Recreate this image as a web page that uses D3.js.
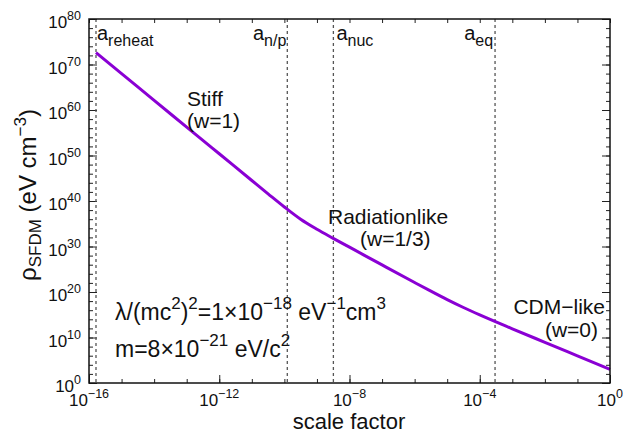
<!DOCTYPE html>
<html>
<head>
<meta charset="utf-8">
<script src="https://cdn.jsdelivr.net/npm/d3@7"></script>
<style>
  html, body { margin: 0; padding: 0; background: #fff; }
  svg { display: block; font-family: "Liberation Sans", Arial, Helvetica, sans-serif; }
</style>
</head>
<body>
<svg id="chart" width="623" height="434"></svg>
<script>
// ---- data ----
const scaleFactor = [1.64e-16, 1e-15, 1e-14, 1e-13, 1e-12, 1e-11, 3.16e-11, 1e-10, 3.16e-10, 1e-9, 3.16e-9,
                     1e-8, 1e-7, 1e-6, 3.16e-6, 1e-5, 3.16e-5, 1e-4, 1e-3, 1e-2, 1e-1, 1];
const rhoSFDM = [4.0e72, 1.0e68, 1.26e62, 1.78e56, 2.4e50, 3.2e44, 3.8e41, 4.9e38, 1.0e36, 6.2e33, 6.3e31,
                 7.1e29, 8.9e25, 1.2e22, 1.5e20, 2.1e18, 3.9e16, 9.3e14, 8.3e11, 8.7e8, 9.3e5, 1.0e3];
const markerNames = ["reheat", "n/p", "nuc", "eq"];
const markerValues = [1.64e-16, 1.23e-10, 3.2e-9, 2.95e-4];
const xTickExponents = [-16, -12, -8, -4, 0];
const yTickExponents = [0, 10, 20, 30, 40, 50, 60, 70, 80];

// ---- layout ----
const W = 623, H = 434;
const m = { left: 89, right: 13, top: 19, bottom: 51 };
const svg = d3.select("#chart");
const x = d3.scaleLog().domain([1e-16, 1]).range([m.left, W - m.right]);
const y = d3.scaleLog().domain([1, 1e80]).range([H - m.bottom, m.top]);

const xMajor = xTickExponents.map(e => Math.pow(10, e));
const xMinor = d3.range(-16, 1).map(e => Math.pow(10, e));
const yMajor = yTickExponents.map(e => Math.pow(10, e));
const yMinor = d3.range(0, 81, 2).map(e => Math.pow(10, e));

function styleAxis(g) {
  g.select(".domain").remove();
  g.selectAll(".tick line").attr("stroke", "#222").attr("stroke-width", 1);
  g.selectAll(".tick text").remove();
}
const bottomY = H - m.bottom, topY = m.top, leftX = m.left, rightX = W - m.right;

svg.append("g").attr("transform", `translate(0,${bottomY})`)
  .call(d3.axisBottom(x).tickValues(xMinor).tickSize(-4).tickSizeOuter(0)).call(styleAxis);
svg.append("g").attr("transform", `translate(0,${bottomY})`)
  .call(d3.axisBottom(x).tickValues(xMajor).tickSize(-8).tickSizeOuter(0)).call(styleAxis);
svg.append("g").attr("transform", `translate(0,${topY})`)
  .call(d3.axisTop(x).tickValues(xMinor).tickSize(-4).tickSizeOuter(0)).call(styleAxis);
svg.append("g").attr("transform", `translate(${leftX},0)`)
  .call(d3.axisLeft(y).tickValues(yMinor).tickSize(-4).tickSizeOuter(0)).call(styleAxis);
svg.append("g").attr("transform", `translate(${leftX},0)`)
  .call(d3.axisLeft(y).tickValues(yMajor).tickSize(-8).tickSizeOuter(0)).call(styleAxis);
svg.append("g").attr("transform", `translate(${rightX},0)`)
  .call(d3.axisRight(y).tickValues(yMinor).tickSize(-4).tickSizeOuter(0)).call(styleAxis);
svg.append("g").attr("transform", `translate(${rightX},0)`)
  .call(d3.axisRight(y).tickValues(yMajor).tickSize(-8).tickSizeOuter(0)).call(styleAxis);

// dashed marker lines
svg.append("g").selectAll("line").data(markerValues).join("line")
  .attr("x1", d => x(d)).attr("x2", d => x(d))
  .attr("y1", topY).attr("y2", bottomY)
  .attr("stroke", "#555").attr("stroke-width", 1.3).attr("stroke-dasharray", "3,3");

// curve
const line = d3.line().x((d, i) => x(scaleFactor[i])).y(d => y(d)).curve(d3.curveMonotoneX);
svg.append("path").datum(rhoSFDM).attr("d", line)
  .attr("fill", "none").attr("stroke", "#8a00d4").attr("stroke-width", 3).attr("stroke-linejoin", "round");

// frame
svg.append("rect").attr("x", leftX).attr("y", topY)
  .attr("width", rightX - leftX).attr("height", bottomY - topY)
  .attr("fill", "none").attr("stroke", "#111").attr("stroke-width", 1.5);

// tick labels (powers of ten)
function powLabel(g, base, exp, fs, sfs, rise) {
  g.append("tspan").attr("font-size", fs).text(base);
  g.append("tspan").attr("font-size", sfs).attr("dy", -rise).text(exp);
}
xTickExponents.forEach((e, i) => {
  const t = svg.append("text").attr("x", x(xMajor[i])).attr("y", 406)
    .attr("text-anchor", "middle").attr("fill", "#111");
  powLabel(t, "10", String(e).replace("-", "\u2212"), 17, 12.5, 8);
});
yTickExponents.forEach((e, i) => {
  const t = svg.append("text").attr("x", 81).attr("y", y(yMajor[i]) + 9)
    .attr("text-anchor", "end").attr("fill", "#111");
  powLabel(t, "10", String(e), 17, 12.5, 8);
});

// axis titles
svg.append("text").attr("x", 349).attr("y", 429)
  .attr("text-anchor", "middle").attr("font-size", 22).attr("fill", "#111").text("scale factor");
const yt = svg.append("text").attr("transform", "translate(36,195) rotate(-90)")
  .attr("text-anchor", "middle").attr("font-size", 24).attr("fill", "#111");
yt.append("tspan").text("\u03c1");
yt.append("tspan").attr("font-size", 17).attr("dy", 5).text("SFDM");
yt.append("tspan").attr("dy", -5).text(" (eV cm");
yt.append("tspan").attr("font-size", 17).attr("dy", -10).text("\u22123");
yt.append("tspan").attr("dy", 10).text(")");

// marker labels
function aLabel(xpos, anchor, sub) {
  const t = svg.append("text").attr("x", xpos).attr("y", 40).attr("text-anchor", anchor)
    .attr("font-size", 20).attr("fill", "#111");
  t.append("tspan").text("a");
  t.append("tspan").attr("font-size", 16).attr("dy", 6).text(sub);
}
aLabel(x(markerValues[0]) + 1, "start", markerNames[0]);
aLabel(x(markerValues[1]) - 1, "end", markerNames[1]);
aLabel(x(markerValues[2]) + 3, "start", markerNames[2]);
aLabel(x(markerValues[3]) - 2, "end", markerNames[3]);

// regime annotations
function txt(xp, yp, s, anchor) {
  svg.append("text").attr("x", xp).attr("y", yp).attr("text-anchor", anchor || "start")
    .attr("font-size", 21).attr("fill", "#111").text(s);
}
txt(187, 106, "Stiff");
txt(187, 128, "(w=1)");
txt(328, 224, "Radiationlike");
txt(360, 246, "(w=1/3)");
txt(605, 314, "CDM\u2212like", "end");
txt(598, 337, "(w=0)", "end");

// parameter text
const p1 = svg.append("text").attr("x", 115).attr("y", 320).attr("font-size", 23).attr("fill", "#111");
p1.append("tspan").text("\u03bb/(mc");
p1.append("tspan").attr("font-size", 17).attr("dy", -11).text("2");
p1.append("tspan").attr("dy", 11).text(")");
p1.append("tspan").attr("font-size", 17).attr("dy", -11).text("2");
p1.append("tspan").attr("dy", 11).text("=1\u00d710");
p1.append("tspan").attr("font-size", 17).attr("dy", -11).text("\u221218");
p1.append("tspan").attr("dy", 11).text(" eV");
p1.append("tspan").attr("font-size", 17).attr("dy", -11).text("\u22121");
p1.append("tspan").attr("dy", 11).text("cm");
p1.append("tspan").attr("font-size", 17).attr("dy", -11).text("3");

const p2 = svg.append("text").attr("x", 115).attr("y", 357).attr("font-size", 23).attr("fill", "#111");
p2.append("tspan").text("m=8\u00d710");
p2.append("tspan").attr("font-size", 17).attr("dy", -11).text("\u221221");
p2.append("tspan").attr("dy", 11).text(" eV/c");
p2.append("tspan").attr("font-size", 17).attr("dy", -11).text("2");
</script>
</body>
</html>
